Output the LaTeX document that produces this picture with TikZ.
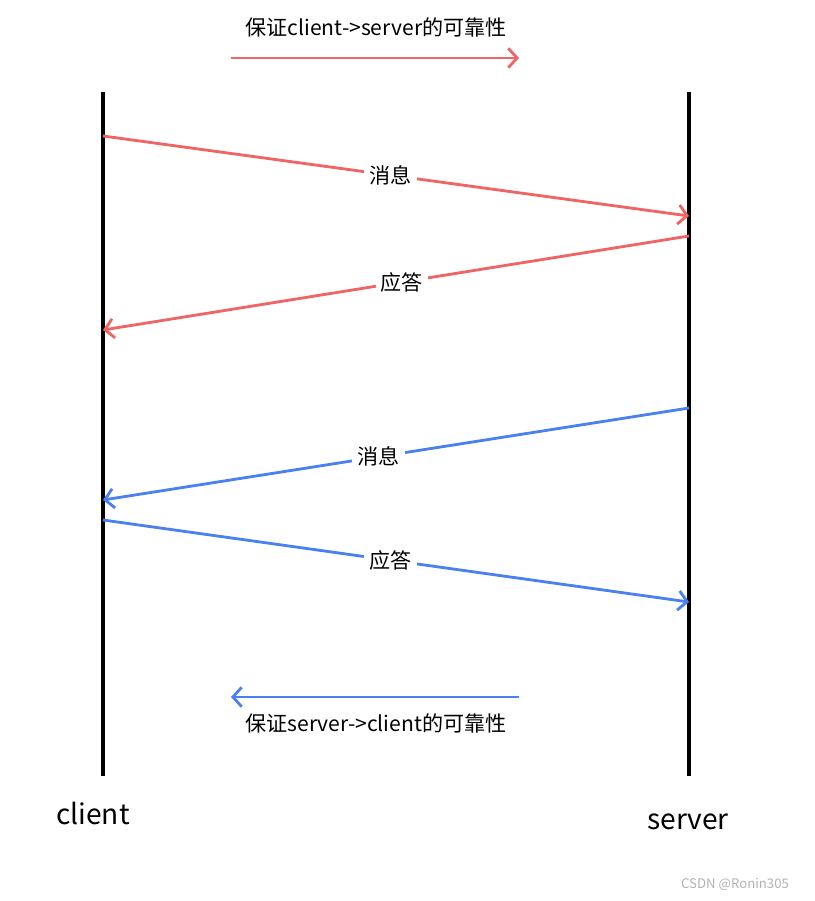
\documentclass[tikz,border=0pt]{standalone}
\usepackage{fontspec}
\setmainfont{Noto Sans CJK SC}
\usetikzlibrary{arrows.meta,positioning}
\definecolor{sendred}{RGB}{240,100,100}
\definecolor{backblue}{RGB}{74,128,240}

\begin{document}
\begin{tikzpicture} [x=0.02cm,y=-0.02cm,semithick]
        \tikzstyle{lifeline}=[draw=black, line width=1.8pt]
        \tikzstyle{msg}=[line width=1.6pt, -{Straight Barb[length=5pt,width=11pt,line width=1.6pt]}]
        \tikzstyle{tag}=[fill=white, inner sep=3pt, font=\fontsize{12}{14}\selectfont]
        \tikzstyle{title}=[inner sep=0pt, font=\fontsize{12}{14}\selectfont]
        \tikzstyle{actor}=[inner sep=0pt, font=\fontsize{16}{18}\selectfont]
        \useasboundingbox (0,0) rectangle (814,901);
        % lifelines
        \coordinate (CTop) at (103,92);
        \coordinate (CBot) at (103,776);
        \coordinate (STop) at (689,92);
        \coordinate (SBot) at (689,776);
        \path[lifeline] (CTop) -- (CBot) (STop) -- (SBot);
        \node[actor] (Client) at (93,813) {client};
        \node[actor] (Server) at (688,822) {server};
        
        % client -> server
        \node[title] (TitleA) at (376,27) {保证client->server的可靠性};
        \coordinate (A0) at (231,58);
        \coordinate (A1) at (519,58);
        \draw[msg,sendred] (A0) -- (A1);
        \coordinate (C1) at (103,136);
        \coordinate (S1) at (689,216);
        \coordinate (S2) at (689,236);
        \coordinate (C2) at (103,330);
        \path[msg,sendred]
        (C1) edge node[tag,text=black,pos=0.49]{消息} (S1)
        (S2) edge node[tag,text=black,pos=0.49]{应答} (C2);
        
        % server -> client
        \coordinate (S3) at (689,408);
        \coordinate (C3) at (103,500);
        \coordinate (C4) at (103,520);
        \coordinate (S4) at (689,602);
        \path[msg,backblue]
        (S3) edge node[tag,text=black,pos=0.53]{消息} (C3)
        (C4) edge node[tag,text=black,pos=0.49]{应答} (S4);
        \coordinate (B0) at (519,697);
        \coordinate (B1) at (231,697);
        \draw[msg,backblue] (B0) -- (B1);
        \node[title] (TitleB) at (376,723) {保证server->client的可靠性};
        
        \node[inner sep=0pt, text=black!30, font=\fontsize{7.5}{9}\selectfont] (Mark) at (735,885) {CSDN @Ronin305};
      \end{tikzpicture}
\end{document}
